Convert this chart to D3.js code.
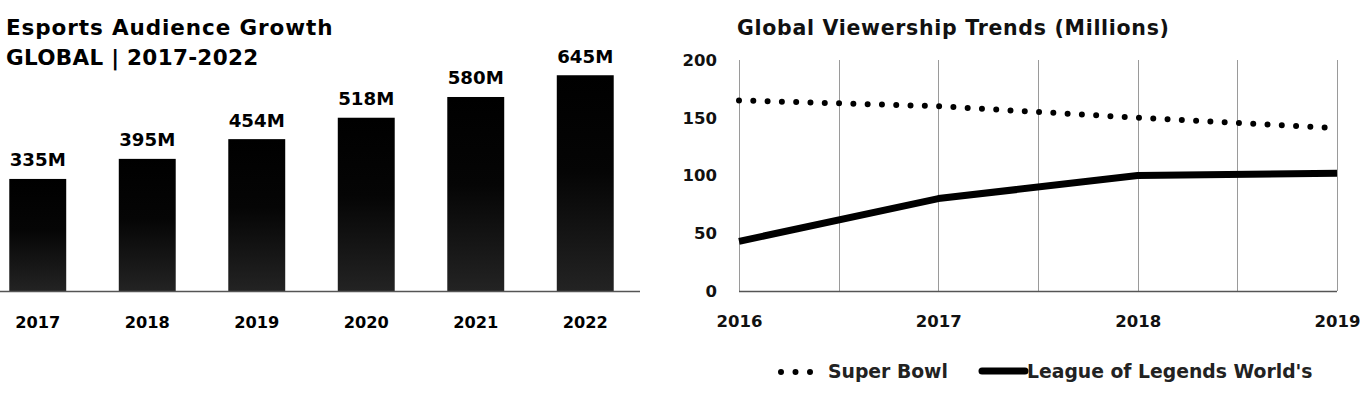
<!DOCTYPE html>
<html><head><meta charset="utf-8">
<script src="https://cdn.jsdelivr.net/npm/d3@7"></script>
<style>
html,body{margin:0;padding:0;background:#fff;}
svg{display:block;}
</style></head>
<body>
<script>
// ---- Left chart data ----
const barYears = ["2017","2018","2019","2020","2021","2022"];
const barValues = [335, 395, 454, 518, 580, 645];
const barLabels = ["335M","395M","454M","518M","580M","645M"];
const leftTitle = ["Esports Audience Growth", "GLOBAL | 2017-2022"];

// ---- Right chart data ----
const lineYears = [2016, 2017, 2018, 2019];
const superBowl = [165, 160, 150, 141];
const lolWorlds = [43, 80, 100, 102];
const yTicks = [0, 50, 100, 150, 200];
const rightTitle = "Global Viewership Trends (Millions)";
const legendNames = ["Super Bowl", "League of Legends World's"];

const W = 1360, H = 397;
const svg = d3.select("body").append("svg").attr("width", W).attr("height", H);

const defs = svg.append("defs");
const grad = defs.append("linearGradient").attr("id","barGrad").attr("x1",0).attr("y1",0).attr("x2",0).attr("y2",1);
grad.append("stop").attr("offset","0%").attr("stop-color","#000");
grad.append("stop").attr("offset","45%").attr("stop-color","#050505");
grad.append("stop").attr("offset","100%").attr("stop-color","#232323");

const font = "'DejaVu Sans', sans-serif";

// ---------- LEFT ----------
const L = svg.append("g");
L.selectAll("text.title").data(leftTitle).join("text")
  .attr("x", 6).attr("y", (d,i)=> 35 + i*30)
  .attr("font-family", font).attr("font-weight", 700).attr("font-size", 21.5)
  .attr("letter-spacing", (d,i)=> i===0 ? 0.9 : 0.3).attr("fill", "#000").text(d=>d);

const xb = d3.scaleBand().domain(barYears).range([-17, 640]).paddingInner(0.48).paddingOuter(0.24);
const yb = d3.scaleLinear().domain([0, 700]).range([291, 291 - 700*0.3345]);

L.selectAll("rect.bar").data(barValues).join("rect")
  .attr("x", (d,i)=> xb(barYears[i])).attr("width", xb.bandwidth())
  .attr("y", d=> yb(d)).attr("height", d=> yb(0) - yb(d))
  .attr("fill", "url(#barGrad)");

L.selectAll("text.val").data(barValues).join("text")
  .attr("x", (d,i)=> xb(barYears[i]) + xb.bandwidth()/2)
  .attr("y", d=> yb(d) - 12.5)
  .attr("text-anchor","middle")
  .attr("font-family", font).attr("font-weight", 700).attr("font-size", 18.2)
  .attr("fill","#000").text((d,i)=> barLabels[i]);

const xAxisL = L.append("g").attr("transform", `translate(0,${yb(0)})`)
  .call(d3.axisBottom(xb).tickSize(0).tickPadding(25));
xAxisL.select(".domain").remove();
xAxisL.selectAll("text").attr("font-family", font).attr("font-weight", 700)
  .attr("font-size", 16.2).attr("fill","#000");
L.append("line").attr("x1",0).attr("x2",640).attr("y1",yb(0)+0.5).attr("y2",yb(0)+0.5)
  .attr("stroke","#555").attr("stroke-width",1.5);

// ---------- RIGHT ----------
const R = svg.append("g");
R.append("text").attr("x", 737).attr("y", 35)
  .attr("font-family", font).attr("font-weight", 700).attr("font-size", 20.5)
  .attr("letter-spacing", 0.7)
  .attr("fill","#111").text(rightTitle);

const x = d3.scaleLinear().domain([2016, 2019]).range([739, 1337]);
const y = d3.scaleLinear().domain([0, 200]).range([291, 60]);

// vertical gridlines every half year
const gridVals = d3.range(2016, 2019.001, 0.5);
R.selectAll("line.grid").data(gridVals).join("line")
  .attr("x1", d=> Math.round(x(d))+0.5).attr("x2", d=> Math.round(x(d))+0.5)
  .attr("y1", y(200)).attr("y2", y(0))
  .attr("stroke","#9a9a9a").attr("stroke-width",1);

R.append("line").attr("x1", x(2016)).attr("x2", x(2019)).attr("y1", y(0)+0.5).attr("y2", y(0)+0.5)
  .attr("stroke","#555").attr("stroke-width",1.5);

const yAx = R.append("g").attr("transform", `translate(${x(2016)},0)`)
  .call(d3.axisLeft(y).tickValues(yTicks).tickSize(0).tickPadding(22));
yAx.select(".domain").remove();
yAx.selectAll("text").attr("font-family", font).attr("font-weight", 700)
  .attr("font-size", 16.5).attr("fill","#111");

const xAx = R.append("g").attr("transform", `translate(0,${y(0)})`)
  .call(d3.axisBottom(x).tickValues(lineYears).tickFormat(d3.format("d")).tickSize(0).tickPadding(24));
xAx.select(".domain").remove();
xAx.selectAll("text").attr("font-family", font).attr("font-weight", 700)
  .attr("font-size", 16.5).attr("fill","#111");

const line = d3.line().x((d,i)=> x(lineYears[i])).y(d=> y(d));
R.append("path").datum(superBowl).attr("d", line)
  .attr("fill","none").attr("stroke","#000").attr("stroke-width",6)
  .attr("stroke-linecap","round").attr("stroke-dasharray","0 14.3");
R.append("path").datum(lolWorlds).attr("d", line)
  .attr("fill","none").attr("stroke","#000").attr("stroke-width",7)
  .attr("stroke-linejoin","round");

// legend
const lg = R.append("g");
lg.append("line").attr("x1", 781).attr("x2", 811).attr("y1", 372).attr("y2", 372)
  .attr("stroke","#000").attr("stroke-width",6).attr("stroke-linecap","round").attr("stroke-dasharray","0 14.5");
lg.append("text").attr("x", 828).attr("y", 378)
  .attr("font-family", font).attr("font-weight", 700).attr("font-size", 18.8)
  .attr("fill","#222").text(legendNames[0]);
lg.append("line").attr("x1", 982).attr("x2", 1025).attr("y1", 371).attr("y2", 371)
  .attr("stroke","#000").attr("stroke-width",7).attr("stroke-linecap","round");
lg.append("text").attr("x", 1027).attr("y", 378)
  .attr("font-family", font).attr("font-weight", 700).attr("font-size", 18.8)
  .attr("fill","#222").text(legendNames[1]);
</script>
</body></html>
